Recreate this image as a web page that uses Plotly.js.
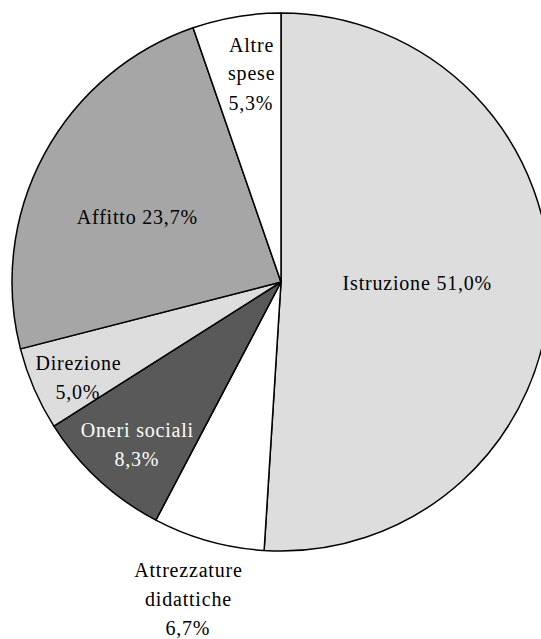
<!DOCTYPE html>
<html><head><meta charset="utf-8">
<script src="https://cdn.plot.ly/plotly-3.0.1.min.js"></script>
<style>html,body{margin:0;padding:0;overflow:hidden;background:#fff}#chart{width:560px;height:639px}#chart text{letter-spacing:0.8px}</style>
</head><body><div id="chart"></div>
<script>
// Data
const categories = ["Istruzione", "Attrezzature didattiche", "Oneri sociali", "Direzione", "Affitto", "Altre spese"];
const shares = [51.0, 6.7, 8.3, 5.0, 23.7, 5.3];
// How each label is broken into lines: "inline" = name and % on one line,
// "name" = name on one line and % below, "words" = each word and % on own lines
const labelSplit = ["inline", "words", "name", "name", "inline", "words"];

// Styles
const sliceColors = ["#dddddd", "#ffffff", "#595959", "#dddddd", "#a6a6a6", "#ffffff"];
const textColors = ["#000", "#000", "#fff", "#000", "#000", "#000"];
// label anchor (pixel centre of first line)
const labelPos = [[417, 283], [188, 570], [137, 430], [78, 363], [137, 217], [251, 45]];
const lineStep = 29;
const FONT = 'Liberation Serif';

const W = 560, H = 639;
const M = {l: 12, r: 10, t: 13, b: 88};
const pw = W - M.l - M.r, ph = H - M.t - M.b;
const toX = px => (px - M.l) / pw;
const toY = py => (H - M.b - py) / ph;

function pct(v) { return v.toFixed(1).replace('.', ',') + '%'; }
function linesFor(i) {
  const name = categories[i], p = pct(shares[i]);
  if (labelSplit[i] === 'inline') return [name + ' ' + p];
  if (labelSplit[i] === 'name') return [name, p];
  return name.split(' ').concat([p]);
}

const annotations = [];
categories.forEach((c, i) => {
  linesFor(i).forEach((t, k) => {
    annotations.push({
      text: t, xref: 'paper', yref: 'paper',
      x: toX(labelPos[i][0]), y: toY(labelPos[i][1] + k * lineStep),
      xanchor: 'center', yanchor: 'middle', showarrow: false,
      font: {family: FONT, size: 20, color: textColors[i]}
    });
  });
});

const trace = {
  type: 'pie',
  labels: categories,
  values: shares,
  sort: false,
  direction: 'clockwise',
  rotation: 0,
  textinfo: 'none',
  hoverinfo: 'label+percent',
  marker: {colors: sliceColors, line: {color: '#000', width: 1.5}},
  domain: {x: [0, 1], y: [0, 1]}
};

const layout = {
  width: W, height: H,
  margin: M,
  showlegend: false,
  font: {family: FONT},
  paper_bgcolor: '#fff',
  plot_bgcolor: '#fff',
  annotations: annotations
};

Plotly.newPlot('chart', [trace], layout, {displayModeBar: false, staticPlot: true});
</script>
</body></html>
